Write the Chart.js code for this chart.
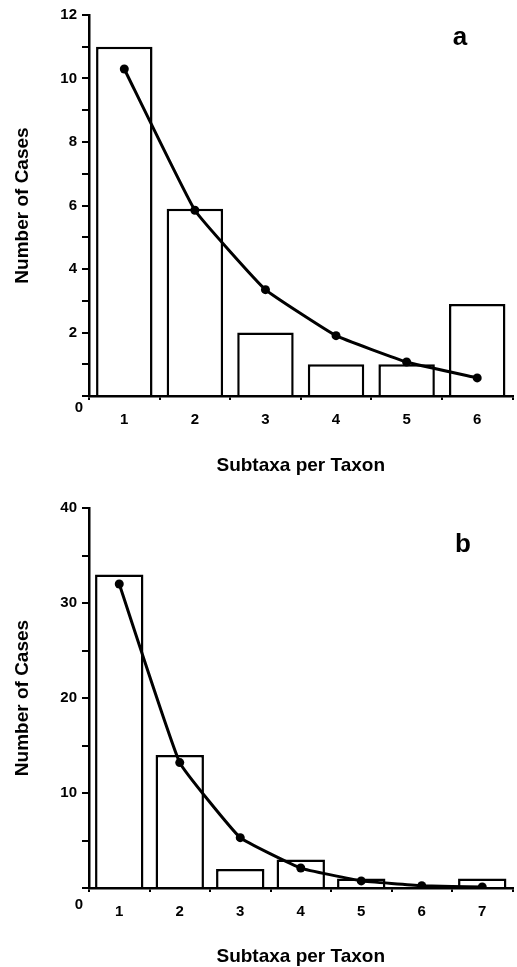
<!DOCTYPE html>
<html>
<head>
<meta charset="utf-8">
<script src="https://cdn.jsdelivr.net/npm/chart.js@4"></script>
<style>
  html, body { margin: 0; padding: 0; background: #fff; }
  .panel { position: absolute; left: 0; width: 517px; }
  #pa { top: 0; height: 483px; }
  #pb { top: 483px; height: 484px; }
</style>
</head>
<body>
<div class="panel" id="pa"><canvas id="chartA"></canvas></div>
<div class="panel" id="pb"><canvas id="chartB"></canvas></div>
<script>
// panel a
const catsA = ["1", "2", "3", "4", "5", "6"];
const barsA = [11, 5.9, 2, 1, 1, 2.9];
const lineA = [10.3, 5.85, 3.35, 1.9, 1.07, 0.57];
const yLabelsA = [2, 4, 6, 8, 10, 12];

// panel b
const catsB = ["1", "2", "3", "4", "5", "6", "7"];
const barsB = [33, 14, 2, 3, 1, 0, 1];
const lineB = [32, 13.2, 5.3, 2.1, 0.75, 0.25, 0.1];
const yLabelsB = [10, 20, 30, 40];

const FONT = "'Liberation Sans', Arial, Helvetica, sans-serif";

// draws the lone "0" under the origin and the panel letter
const extras = {
  id: "extras",
  afterDraw(chart, args, opts) {
    const { ctx, chartArea } = chart;
    ctx.save();
    ctx.fillStyle = "#000";
    ctx.textAlign = "center";
    ctx.textBaseline = "middle";
    ctx.font = "bold 15px " + FONT;
    ctx.fillText("0", chartArea.left - 10, chartArea.bottom + opts.zeroDy);
    ctx.font = "bold 26px " + FONT;
    ctx.fillText(opts.letter, opts.letterX, opts.letterY);
    ctx.restore();
  }
};

function makeChart(id, cats, bars, line, yMax, step, yLabels, o) {
  return new Chart(document.getElementById(id), {
    type: "bar",
    data: {
      labels: cats,
      datasets: [
        { type: "line", data: line, borderColor: "#000", borderWidth: 3, tension: 0.1,
          pointRadius: 4.5, pointBackgroundColor: "#000", pointBorderWidth: 0, order: 1 },
        { data: bars, backgroundColor: "#fff", borderColor: "#000", borderWidth: 2.5,
          categoryPercentage: 0.8, barPercentage: 1, order: 2 }
      ]
    },
    options: {
      responsive: true, maintainAspectRatio: false, animation: false, devicePixelRatio: 1,
      layout: { padding: { top: o.padTop, left: 0, right: 0, bottom: 0 } },
      plugins: {
        legend: { display: false }, tooltip: { enabled: false },
        extras: { letter: o.letter, letterX: o.letterX, letterY: o.letterY, zeroDy: o.zeroDy }
      },
      scales: {
        x: {
          offset: true,
          grid: { offset: true, drawOnChartArea: false, drawTicks: true, tickLength: 4, color: "#000", lineWidth: 2 },
          border: { display: true, color: "#000", width: 2.5 },
          ticks: { color: "#000", padding: 11, font: { family: FONT, size: 15, weight: "bold" } },
          title: { display: true, text: "Subtaxa per Taxon", color: "#000",
                   font: { family: FONT, size: 19, weight: "bold", lineHeight: 1 },
                   padding: { top: 0, bottom: o.xTitlePad } },
          afterFit: (s) => { s.height = o.xHeight; }
        },
        y: {
          min: 0, max: yMax,
          grid: { drawOnChartArea: false, drawTicks: true, tickLength: 7, color: "#000", lineWidth: 2 },
          border: { display: true, color: "#000", width: 2.5 },
          ticks: { stepSize: step, color: "#000", padding: 5, autoSkip: false,
                   font: { family: FONT, size: 15, weight: "bold" },
                   callback: (v) => yLabels.includes(v) ? String(v) : "" },
          title: { display: true, text: "Number of Cases", color: "#000",
                   font: { family: FONT, size: 19, weight: "bold", lineHeight: 1 },
                   padding: { top: 13.5, bottom: 0 } },
          afterFit: (s) => { s.width = 89; }
        }
      }
    },
    plugins: [extras]
  });
}

makeChart("chartA", catsA, barsA, lineA, 12, 1, yLabelsA,
  { padTop: 15, xHeight: 87, xTitlePad: 7.5, letter: "a", letterX: 460, letterY: 38, zeroDy: 12 });
makeChart("chartB", catsB, barsB, lineB, 40, 5, yLabelsB,
  { padTop: 25, xHeight: 79, xTitlePad: 0.5, letter: "b", letterX: 463, letterY: 62, zeroDy: 17 });
</script>
</body>
</html>
